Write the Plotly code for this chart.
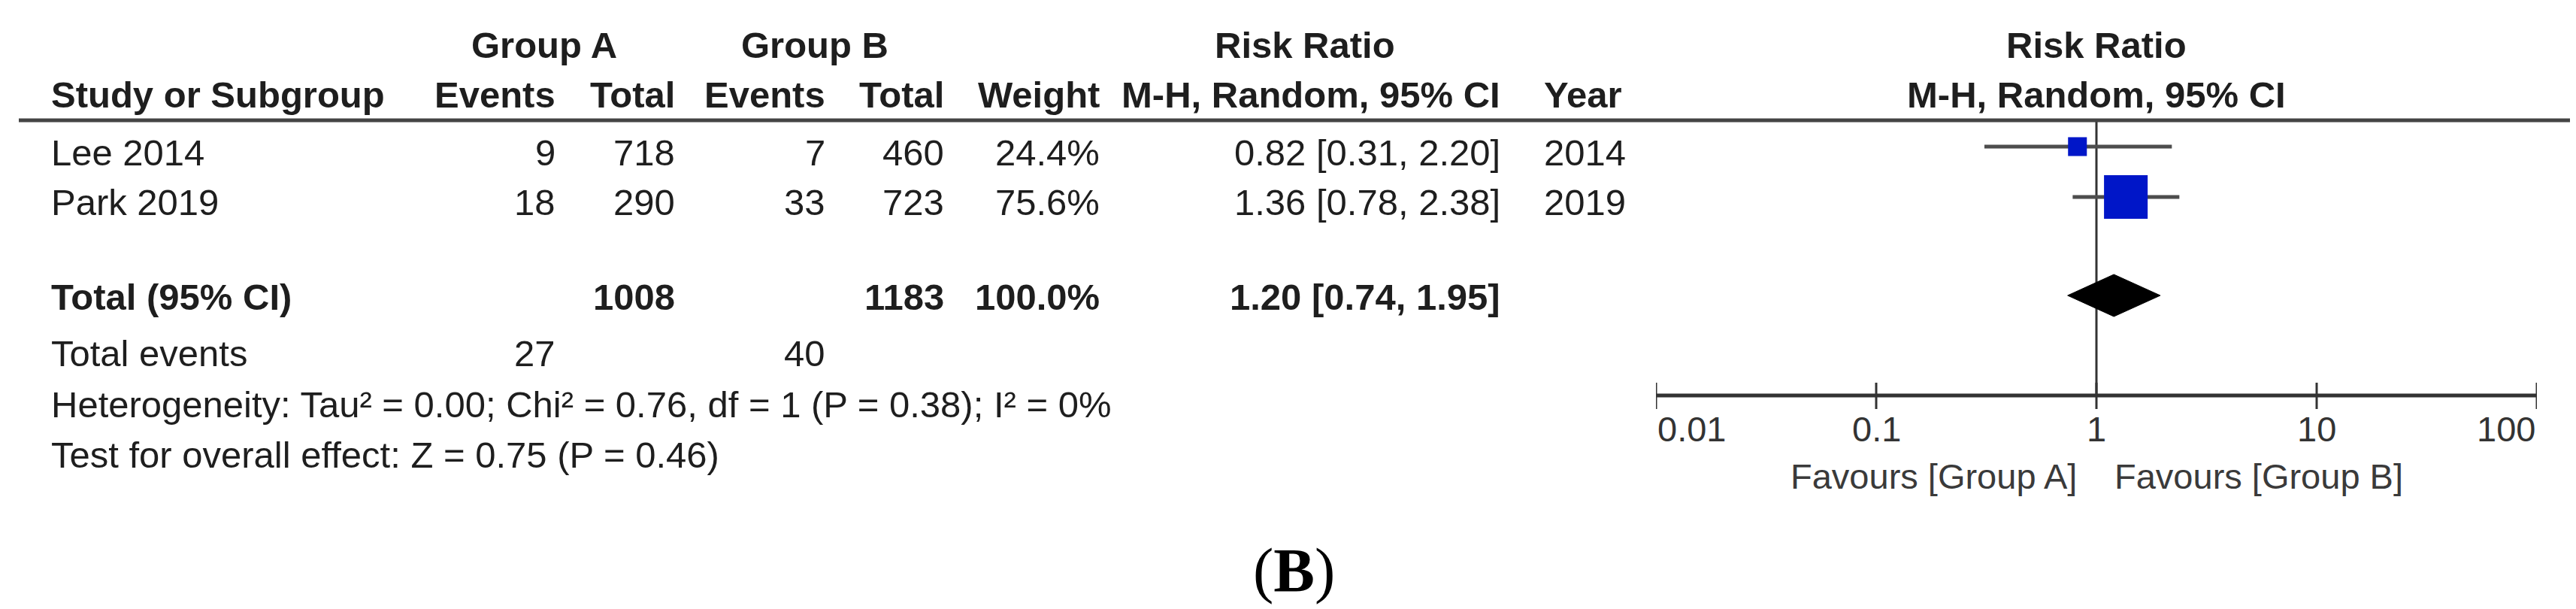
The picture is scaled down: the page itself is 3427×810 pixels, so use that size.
import numpy as np
import plotly.graph_objects as go

W, H = 3427, 810

# ---------------- data ----------------
studies = ["Lee 2014", "Park 2019"]
a_events = [9, 18]
a_total = [718, 290]
b_events = [7, 33]
b_total = [460, 723]
weights = [24.4, 75.6]
rr = [0.82, 1.36]
rr_lo = [0.31, 0.78]
rr_hi = [2.20, 2.38]
years = [2014, 2019]

pooled_label = "Total (95% CI)"
pooled_a_total = 1008
pooled_b_total = 1183
pooled_weight = 100.0
pooled_rr = 1.20
pooled_lo = 0.74
pooled_hi = 1.95

events_label = "Total events"
events_a = 27
events_b = 40

heterogeneity = "Heterogeneity: Tau² = 0.00; Chi² = 0.76, df = 1 (P = 0.38); I² = 0%"
overall = "Test for overall effect: Z = 0.75 (P = 0.46)"

tick_vals = [0.01, 0.1, 1, 10, 100]
tick_text = ["0.01", "0.1", "1", "10", "100"]
favours = ["Favours [Group A]", "Favours [Group B]"]
panel_label = "(<b>B</b>)"

# ---------------- layout constants (pixels) ----------------
FONT = "Liberation Sans, Arial, sans-serif"
FS = 49
TXT = "#1e1e1e"

y_h1, y_h2, y_line = 52, 118, 152
row_text_y = [195, 261]
row_mark_y = [187, 254]
y_total_text, y_total_mark = 387, 385
y_events, y_het, y_test = 462, 530, 597
y_axis = 518

col_name = 58
col_aev, col_atot, col_bev, col_btot, col_w, col_rr, col_year = 733, 892, 1092, 1250, 1457, 1990, 2044
x_one = 2781
dec = 293


def px(x):
    return x / W


def py(y):
    return 1 - y / H


ann = []


def text(x, y, s, anchor="left", bold=False, size=FS, color=TXT, family=FONT):
    ann.append(dict(
        x=px(x), y=py(y), xref="paper", yref="paper", text=(f"<b>{s}</b>" if bold else s),
        showarrow=False, xanchor=anchor, yanchor="middle",
        font=dict(family=family, size=size, color=color),
    ))


# header
text(716, y_h1, "Group A", "center", True)
text(1076, y_h1, "Group B", "center", True)
text(1728, y_h1, "Risk Ratio", "center", True)
text(x_one, y_h1, "Risk Ratio", "center", True)

text(col_name, y_h2, "Study or Subgroup", "left", True)
text(col_aev, y_h2, "Events", "right", True)
text(col_atot, y_h2, "Total", "right", True)
text(col_bev, y_h2, "Events", "right", True)
text(col_btot, y_h2, "Total", "right", True)
text(col_w, y_h2, "Weight", "right", True)
text(col_rr, y_h2, "M-H, Random, 95% CI", "right", True)
text(col_year, y_h2, "Year", "left", True)
text(x_one, y_h2, "M-H, Random, 95% CI", "center", True)

# study rows
for i, s in enumerate(studies):
    y = row_text_y[i]
    text(col_name, y, s)
    text(col_aev, y, str(a_events[i]), "right")
    text(col_atot, y, str(a_total[i]), "right")
    text(col_bev, y, str(b_events[i]), "right")
    text(col_btot, y, str(b_total[i]), "right")
    text(col_w, y, f"{weights[i]:.1f}%", "right")
    text(col_rr, y, f"{rr[i]:.2f} [{rr_lo[i]:.2f}, {rr_hi[i]:.2f}]", "right")
    text(col_year, y, str(years[i]), "left")

# total row
text(col_name, y_total_text, pooled_label, "left", True)
text(col_atot, y_total_text, str(pooled_a_total), "right", True)
text(col_btot, y_total_text, str(pooled_b_total), "right", True)
text(col_w, y_total_text, f"{pooled_weight:.1f}%", "right", True)
text(col_rr, y_total_text, f"{pooled_rr:.2f} [{pooled_lo:.2f}, {pooled_hi:.2f}]", "right", True)

text(col_name, y_events, events_label)
text(col_aev, y_events, str(events_a), "right")
text(col_bev, y_events, str(events_b), "right")
text(col_name, y_het, heterogeneity)
text(col_name, y_test, overall)

# panel label
text(1713, 750, panel_label, "center", False, 82, "#000000", "Liberation Serif, Times New Roman, serif")

# axis tick labels and favours labels (through the log x axis)
for v, t in zip(tick_vals, tick_text):
    anchor = "left" if v == tick_vals[0] else ("right" if v == tick_vals[-1] else "center")
    ann.append(dict(x=np.log10(v), y=562, xref="x", yref="y", text=t, showarrow=False,
                    xanchor=anchor, yanchor="middle", font=dict(family=FONT, size=47, color="#333333")))
ann.append(dict(x=0, y=625, xref="x", yref="y", text=favours[0], showarrow=False, xanchor="right",
                xshift=-24, yanchor="middle", font=dict(family=FONT, size=47, color="#3a3a3a")))
ann.append(dict(x=0, y=625, xref="x", yref="y", text=favours[1], showarrow=False, xanchor="left",
                xshift=22, yanchor="middle", font=dict(family=FONT, size=47, color="#3a3a3a")))

fig = go.Figure()

# vertical line of no effect
fig.add_trace(go.Scatter(x=[1, 1], y=[y_line, y_axis], mode="lines",
                         line=dict(color="#333333", width=3), hoverinfo="skip"))

# confidence intervals
for i in range(len(studies)):
    fig.add_trace(go.Scatter(x=[rr_lo[i], rr_hi[i]], y=[row_mark_y[i]] * 2, mode="lines",
                             line=dict(color="#4d4d4d", width=5), hoverinfo="skip"))

# squares (size from weight)
sizes = [9.3 + 0.645 * w for w in weights]
fig.add_trace(go.Scatter(x=rr, y=row_mark_y, mode="markers", opacity=1,
                         marker=dict(symbol="square", size=sizes, color="#0016c8", opacity=1,
                                     line=dict(width=0)),
                         hoverinfo="skip"))

# pooled diamond
dh = 28
fig.add_trace(go.Scatter(x=[pooled_lo, pooled_rr, pooled_hi, pooled_rr, pooled_lo],
                         y=[y_total_mark, y_total_mark - dh, y_total_mark, y_total_mark + dh, y_total_mark],
                         mode="lines", fill="toself", fillcolor="#000000",
                         line=dict(color="#000000", width=1), hoverinfo="skip"))

# axis line and ticks
fig.add_trace(go.Scatter(x=[tick_vals[0], tick_vals[-1]], y=[y_axis, y_axis], mode="lines",
                         line=dict(color="#333333", width=5), hoverinfo="skip"))
tx, ty = [], []
for v in tick_vals:
    tx += [v, v, None]
    ty += [y_axis - 17, y_axis + 18, None]
fig.add_trace(go.Scatter(x=tx, y=ty, mode="lines", line=dict(color="#333333", width=3),
                         hoverinfo="skip"))

x0 = x_one - 2 * dec
x1 = x_one + 2 * dec
fig.update_layout(
    width=W, height=H, margin=dict(l=0, r=0, t=0, b=0, pad=0),
    paper_bgcolor="white", plot_bgcolor="rgba(0,0,0,0)", showlegend=False,
    xaxis=dict(type="log", range=[-2, 2], domain=[px(x0), px(x1)], visible=False, fixedrange=True),
    yaxis=dict(range=[H, 0], domain=[0, 1], visible=False, fixedrange=True),
    annotations=ann,
    shapes=[dict(type="line", xref="paper", yref="paper", x0=px(17), x1=px(3412),
                 y0=py(y_line), y1=py(y_line), line=dict(color="#444444", width=5))],
)

fig.write_html("out.html")
